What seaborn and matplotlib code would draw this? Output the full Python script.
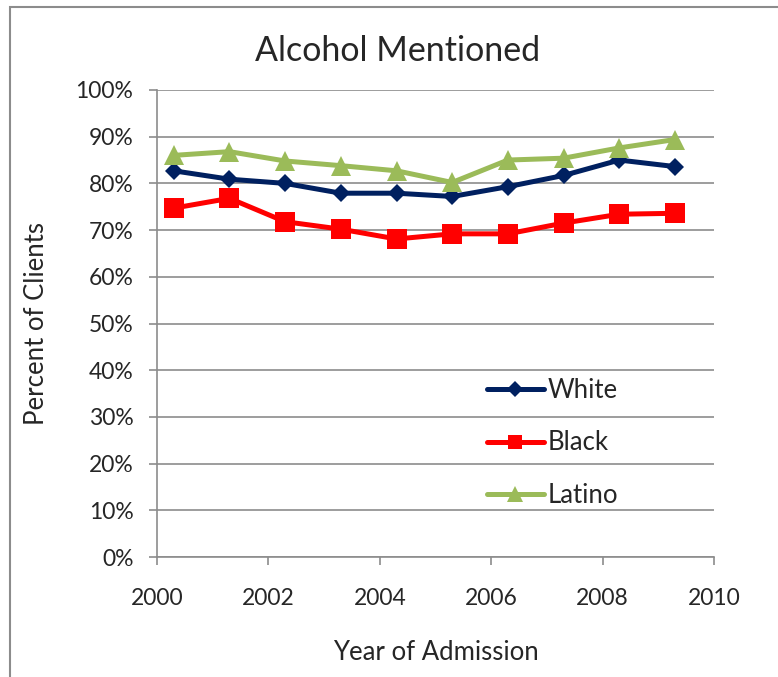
import numpy as np
import pandas as pd
import matplotlib.pyplot as plt
from matplotlib.patches import Rectangle
from matplotlib.ticker import PercentFormatter
import seaborn as sns

years = [2000.3, 2001.3, 2002.3, 2003.3, 2004.3, 2005.3, 2006.3, 2007.3, 2008.3, 2009.3]
white = [82.7, 80.9, 80.0, 77.9, 77.9, 77.2, 79.3, 81.7, 85.0, 83.6]
black = [74.7, 76.8, 71.8, 70.2, 68.1, 69.2, 69.2, 71.5, 73.4, 73.6]
latino = [86.0, 86.8, 84.8, 83.8, 82.7, 80.2, 85.0, 85.4, 87.6, 89.4]
groups = ["White", "Black", "Latino"]
colors = {"White": "#002060", "Black": "#FF0000", "Latino": "#9BBB59"}
markers = {"White": "D", "Black": "s", "Latino": "^"}
msizes = {"White": 9.5, "Black": 14, "Latino": 14}
leg_msizes = {"White": 8, "Black": 10, "Latino": 11}

df = pd.DataFrame({
    "year": years * 3,
    "pct": white + black + latino,
    "group": ["White"] * 10 + ["Black"] * 10 + ["Latino"] * 10,
})

sns.set_style("white")
plt.rcParams['font.family'] = ['Lato', 'DejaVu Sans']

fig = plt.figure(figsize=(7.78, 6.77), dpi=100)
ax = fig.add_axes([157/778, 1-557/677, (714-157)/778, (557-90)/677])

sns.lineplot(data=df, x="year", y="pct", hue="group", style="group",
             hue_order=groups, style_order=groups, palette=colors,
             markers=markers, dashes=False, errorbar=None,
             linewidth=3.6, markeredgewidth=0, ax=ax)
for line, g in zip(ax.lines, groups):
    line.set_markersize(msizes[g])
    line.set_markeredgecolor(colors[g])

ax.set_xlim(2000, 2010)
ax.set_ylim(0, 100)
ax.set_xticks(range(2000, 2011, 2))
ax.set_yticks(range(0, 101, 10))
ax.yaxis.set_major_formatter(PercentFormatter(decimals=0))
ax.grid(axis="y", color="#8c8c8c", linewidth=1.2)
ax.set_axisbelow(True)
for s in ["top", "right"]:
    ax.spines[s].set_visible(False)
for s in ["left", "bottom"]:
    ax.spines[s].set_color("#8c8c8c")
    ax.spines[s].set_linewidth(1.2)
ax.tick_params(axis="both", direction="out", length=6, width=1.2, color="#8c8c8c",
               labelsize=16.5)
ax.tick_params(axis="x", pad=16, bottom=True)
ax.tick_params(axis="y", pad=11, left=True)

fig.text(398/778, 1-51/677, "Alcohol Mentioned", fontsize=24.5, ha="center", va="center")
ax.set_xlabel("Year of Admission", fontsize=18.5)
ax.set_ylabel("Percent of Clients", fontsize=18.5)
ax.xaxis.set_label_coords(0.5, (557-652)/467)
ax.xaxis.label.set_va("center")
ax.yaxis.set_label_coords((37-157)/557, 0.5)
ax.yaxis.label.set_va("center")

leg = ax.legend(loc="center left", bbox_to_anchor=((487-157)/557, (557-443)/467),
                frameon=False, fontsize=18.5, handlelength=2.2, labelspacing=1.07,
                handletextpad=0.15, borderpad=0, borderaxespad=0)
for h, g in zip(leg.legend_handles, groups):
    h.set_markersize(leg_msizes[g])

fig.patches.append(Rectangle((10/778, -0.1), 1.2, 1.1 - 7/677, transform=fig.transFigure,
                             fill=False, edgecolor="#8c8c8c", linewidth=1.5))

fig.savefig("out.png", dpi=100)
